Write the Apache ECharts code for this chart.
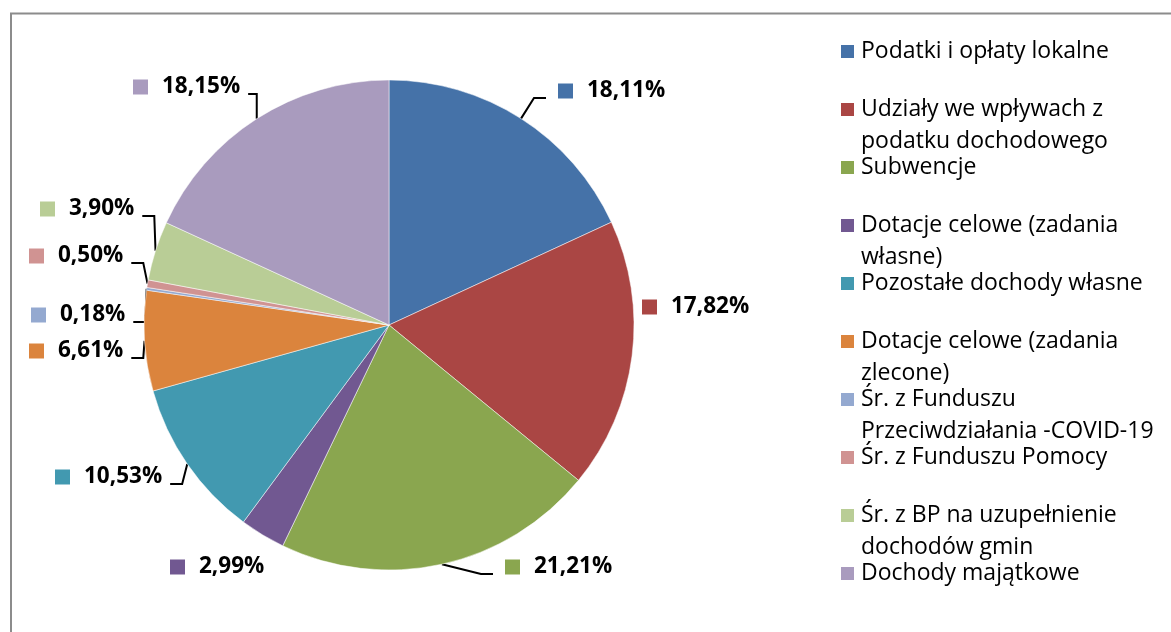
<!DOCTYPE html>
<html>
<head>
<meta charset="utf-8">
<script src="https://cdn.jsdelivr.net/npm/echarts@6/dist/echarts.min.js"></script>
<style>
  html, body { margin: 0; padding: 0; background: #fff; }
  #chart { width: 1171px; height: 632px; }
</style>
</head>
<body>
<div id="chart"></div>
<script>
// dane
const categories = [
  "Podatki i opłaty lokalne",
  "Udziały we wpływach z\npodatku dochodowego",
  "Subwencje",
  "Dotacje celowe (zadania\nwłasne)",
  "Pozostałe dochody własne",
  "Dotacje celowe (zadania\nzlecone)",
  "Śr. z Funduszu\nPrzeciwdziałania -COVID-19",
  "Śr. z Funduszu Pomocy",
  "Śr. z BP na uzupełnienie\ndochodów gmin",
  "Dochody majątkowe"
];
const values = [18.11, 17.82, 21.21, 2.99, 10.53, 6.61, 0.18, 0.50, 3.90, 18.15];
const colors = ["#4572a8", "#aa4644", "#8aa64f", "#715891", "#4299b0",
                "#db843d", "#94a9d0", "#d09392", "#b9cd96", "#a99bbe"];

// rozmieszczenie etykiet jak w Excelu (lewa krawedz znacznika, srodek tekstu)
const labelSpots = [
  [558, 89], [642, 305], [505, 565], [170, 565], [55, 475],
  [29, 349], [31, 313], [29, 254], [40, 207], [133, 85]
];
const noLine = [1, 3];

const FONT = "Open Sans";

let rich = {
  v: { fontFamily: FONT, fontWeight: "bold", fontSize: 22.5, color: "#000", padding: [0, 0, 0, 14] }
};
colors.forEach((c, i) => {
  rich["m" + i] = { width: 15, height: 15, backgroundColor: c };
});

let myChart = echarts.init(document.getElementById("chart"));
let option = {
  color: colors,
  animation: false,
  graphic: [
    {
      type: "rect",
      shape: { x: 11, y: 13.5, width: 1300, height: 800 },
      style: { fill: "none", stroke: "#8c8c8c", lineWidth: 2 }
    }
  ],
  legend: {
    orient: "vertical",
    left: 839,
    top: 8,
    padding: 0,
    icon: "rect",
    itemWidth: 15,
    itemHeight: 15,
    itemGap: -29,
    selectedMode: false,
    formatter: name => {
      let parts = name.split("\n");
      return "{s| }\n{a|" + parts[0] + "}\n" + (parts[1] ? "{a|" + parts[1] + "}" : "{s| }");
    },
    textStyle: {
      padding: [0, 0, 0, 1],
      rich: {
        a: { fontFamily: FONT, fontSize: 23, lineHeight: 32, color: "#000" },
        s: { fontFamily: FONT, fontSize: 23, lineHeight: 32 }
      }
    },
    data: categories
  },
  series: [
    {
      name: "Dochody",
      type: "pie",
      center: [389, 325],
      radius: 245,
      startAngle: 90,
      clockwise: true,
      avoidLabelOverlap: false,
      itemStyle: { borderColor: "#fff", borderWidth: 0.5 },
      label: {
        show: true,
        position: "outside",
        padding: [0, 8, 14, 12],
        backgroundColor: "rgba(255,255,255,0)",
        formatter: p => "{m" + p.dataIndex + "|}{v|" + p.value.toFixed(2).replace(".", ",") + "%}",
        rich: rich
      },
      labelLine: {
        show: true,
        length: 14,
        length2: 12,
        minTurnAngle: 90,
        lineStyle: { color: "#000", width: 2 }
      },
      labelLayout: p => {
        let s = labelSpots[p.dataIndex];
        return { x: s[0] - 12, y: s[1] + 9, align: "left", verticalAlign: "middle" };
      },
      data: categories.map((n, i) => ({
        name: n,
        value: values[i],
        labelLine: { show: noLine.indexOf(i) < 0 }
      }))
    }
  ]
};
myChart.setOption(option, true);
</script>
</body>
</html>
